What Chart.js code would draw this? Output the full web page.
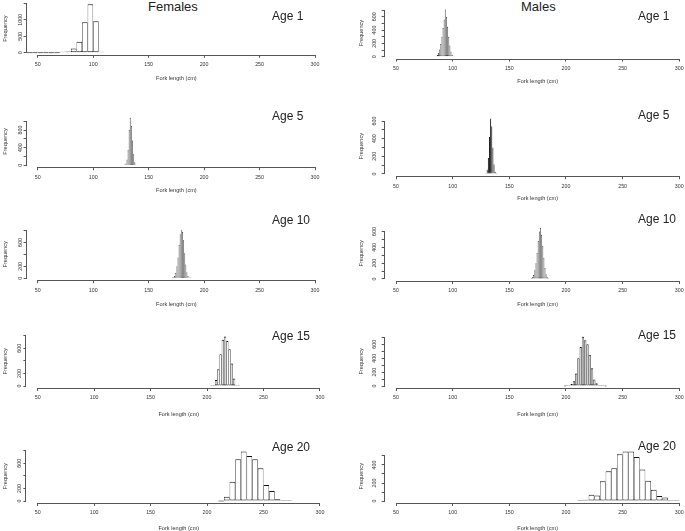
<!DOCTYPE html>
<html>
<head>
<meta charset="utf-8">
<script src="https://cdn.jsdelivr.net/npm/chart.js@4.4.0/dist/chart.umd.min.js"></script>
<style>
  body { margin: 0; background: #fff; width: 685px; height: 531px; overflow: hidden; position: relative;
         font-family: "Liberation Sans", Arial, sans-serif; }
  canvas { position: absolute; }
  .lab { position: absolute; color: #222; white-space: nowrap; line-height: 1; }
</style>
</head>
<body>
<div class="lab" style="left:148px;top:0px;font-size:13px">Females</div>
<div class="lab" style="left:521px;top:0px;font-size:13px">Males</div>
<script>
// x axis ticks, shared by every panel
var lengthTicks = [50, 100, 150, 200, 250, 300];

// Females, age 1 (5 cm bins)
var binsF1 = [42.5, 47.5, 52.5, 57.5, 62.5, 67.5, 72.5, 77.5, 82.5, 87.5, 92.5, 97.5, 102.5, 107.5];
var countsF1 = [0, 0, 0, 0, 0, 0, 15, 40, 135, 340, 930, 1470, 960, 30];
var yTicksF1 = [0, 500, 1000, 1500];
var yLabelsF1 = ['0', '500', '1000', ''];

// Females, age 5 (1 cm bins)
var binsF5 = [128.5, 129.5, 130.5, 131.5, 132.5, 133.5, 134.5, 135.5, 136.5, 137.5, 138.5];
var countsF5 = [10, 40, 130, 350, 800, 1080, 900, 560, 250, 70, 15];
var yTicksF5 = [0, 200, 400, 600, 800, 1000];
var yLabelsF5 = ['0', '', '400', '', '800', ''];

// Females, age 10 (1 cm bins)
var binsF10 = [171.5, 172.5, 173.5, 174.5, 175.5, 176.5, 177.5, 178.5, 179.5, 180.5, 181.5, 182.5, 183.5, 184.5, 185.5, 186.5, 187.5];
var countsF10 = [5, 15, 40, 90, 200, 350, 560, 740, 805, 780, 640, 420, 230, 100, 40, 15, 5];
var yTicksF10 = [0, 200, 400, 600, 800];
var yLabelsF10 = ['0', '200', '', '600', ''];

// Females, age 15 (2 cm bins)
var binsF15 = [204, 206, 208, 210, 212, 214, 216, 218, 220, 222, 224, 226, 228];
var countsF15 = [3, 10, 95, 265, 505, 735, 787, 718, 585, 360, 120, 15, 3];
var yTicksF15 = [0, 200, 400, 600, 800];
var yLabelsF15 = ['0', '200', '', '600', ''];

// Females, age 20 (5 cm bins)
var binsF20 = [212.5, 217.5, 222.5, 227.5, 232.5, 237.5, 242.5, 247.5, 252.5, 257.5, 262.5, 267.5, 272.5];
var countsF20 = [0, 69, 308, 665, 787, 718, 665, 521, 255, 160, 27, 10, 2];
var yTicksF20 = [0, 200, 400, 600, 800];
var yLabelsF20 = ['0', '200', '', '600', ''];

// Males, age 1 (1 cm bins)
var binsM1 = [84.5, 85.5, 86.5, 87.5, 88.5, 89.5, 90.5, 91.5, 92.5, 93.5, 94.5, 95.5, 96.5, 97.5, 98.5, 99.5, 100.5, 101.5];
var countsM1 = [5, 15, 30, 60, 110, 190, 300, 430, 560, 710, 600, 450, 300, 170, 80, 30, 10, 3];
var yTicksM1 = [0, 100, 200, 300, 400, 500, 600, 700];
var yLabelsM1 = ['0', '', '200', '', '400', '', '600', ''];

// Males, age 5 (1 cm bins)
var binsM5 = [129.5, 130.5, 131.5, 132.5, 133.5, 134.5, 135.5, 136.5, 137.5, 138.5];
var countsM5 = [10, 50, 180, 420, 630, 540, 300, 110, 25, 5];
var yTicksM5 = [0, 100, 200, 300, 400, 500, 600];
var yLabelsM5 = ['0', '', '200', '', '400', '', '600'];

// Males, age 10 (1 cm bins)
var binsM10 = [169.5, 170.5, 171.5, 172.5, 173.5, 174.5, 175.5, 176.5, 177.5, 178.5, 179.5, 180.5, 181.5, 182.5, 183.5, 184.5];
var countsM10 = [5, 20, 50, 110, 200, 330, 480, 600, 650, 560, 420, 270, 140, 60, 20, 5];
var yTicksM10 = [0, 100, 200, 300, 400, 500, 600];
var yLabelsM10 = ['0', '', '200', '', '400', '', '600'];

// Males, age 15 (2 cm bins)
var binsM15 = [199, 201, 203, 205, 207, 209, 211, 213, 215, 217, 219, 221, 223, 225, 227, 229, 231, 233, 235];
var countsM15 = [0, 2, 10, 30, 70, 180, 400, 560, 710, 660, 600, 450, 255, 95, 40, 15, 5, 2, 0];
var yTicksM15 = [0, 100, 200, 300, 400, 500, 600, 700];
var yLabelsM15 = ['0', '', '200', '', '400', '', '600', ''];

// Males, age 20 (5 cm bins)
var binsM20 = [212.5, 217.5, 222.5, 227.5, 232.5, 237.5, 242.5, 247.5, 252.5, 257.5, 262.5, 267.5, 272.5, 277.5, 282.5, 287.5, 292.5, 297.5];
var countsM20 = [3, 15, 70, 60, 220, 330, 365, 520, 550, 550, 490, 350, 225, 125, 55, 40, 10, 10];
var yTicksM20 = [0, 100, 200, 300, 400, 500];
var yLabelsM20 = ['0', '', '200', '', '400', ''];

// page layout of each panel (plot box in page pixels)
var panels = [
  {age: 'Age 1',  bins: binsF1,  counts: countsF1,  yTicks: yTicksF1,  yLabels: yLabelsF1,  fill: '#ffffff', narrow: false, col: 0, left: 26.6, right: 326.1, top: 2.4,   bottom: 54.8,  titleGap: 24, ageY: 16},
  {age: 'Age 5',  bins: binsF5,  counts: countsF5,  yTicks: yTicksF5,  yLabels: yLabelsF5,  fill: '#7a7a7a', narrow: true,  col: 0, left: 26.6, right: 326.1, top: 115.8, bottom: 167.2, titleGap: 23, ageY: 116},
  {age: 'Age 10', bins: binsF10, counts: countsF10, yTicks: yTicksF10, yLabels: yLabelsF10, fill: '#7a7a7a', narrow: true,  col: 0, left: 26.6, right: 326.1, top: 228.4, bottom: 280.2, titleGap: 24, ageY: 219.5},
  {age: 'Age 15', bins: binsF15, counts: countsF15, yTicks: yTicksF15, yLabels: yLabelsF15, fill: '#ffffff', narrow: false, col: 0, left: 26.4, right: 331.2, top: 334.6, bottom: 388,   titleGap: 26, ageY: 335.5},
  {age: 'Age 20', bins: binsF20, counts: countsF20, yTicks: yTicksF20, yLabels: yLabelsF20, fill: '#ffffff', narrow: false, col: 0, left: 26.4, right: 331.2, top: 449.6, bottom: 503,   titleGap: 25, ageY: 447},
  {age: 'Age 1',  bins: binsM1,  counts: countsM1,  yTicks: yTicksM1,  yLabels: yLabelsM1,  fill: '#7a7a7a', narrow: true,  col: 1, left: 384.7, right: 690.6, top: 7.5,   bottom: 58.6,  titleGap: 23, ageY: 16},
  {age: 'Age 5',  bins: binsM5,  counts: countsM5,  yTicks: yTicksM5,  yLabels: yLabelsM5,  fill: '#000000', narrow: true,  col: 1, left: 384.7, right: 690.6, top: 116.2, bottom: 176.2, titleGap: 22.5, ageY: 114.5},
  {age: 'Age 10', bins: binsM10, counts: countsM10, yTicks: yTicksM10, yLabels: yLabelsM10, fill: '#7a7a7a', narrow: true,  col: 1, left: 384.7, right: 690.6, top: 225.6, bottom: 281,   titleGap: 23, ageY: 219},
  {age: 'Age 15', bins: binsM15, counts: countsM15, yTicks: yTicksM15, yLabels: yLabelsM15, fill: '#d0d0d0', narrow: false, col: 1, left: 384.7, right: 690.6, top: 334.7, bottom: 388,   titleGap: 26, ageY: 334.5},
  {age: 'Age 20', bins: binsM20, counts: countsM20, yTicks: yTicksM20, yLabels: yLabelsM20, fill: '#ffffff', narrow: false, col: 1, left: 384.7, right: 690.6, top: 449.5, bottom: 503,   titleGap: 25, ageY: 445.5}
];

var FONT = 'Liberation Sans';
var measureCtx = document.createElement('canvas').getContext('2d');
function widest(labels, size) {
  measureCtx.font = size + 'px "' + FONT + '"';
  var w = 0;
  labels.forEach(function (t) { w = Math.max(w, measureCtx.measureText(t).width); });
  return w;
}

// R style axes: x line from first to last tick, y line from 0 to top tick
var rAxes = {
  id: 'rAxes',
  afterDraw: function (chart) {
    var ctx = chart.ctx, x = chart.scales.x, y = chart.scales.y;
    var yt = y.ticks;
    ctx.save();
    ctx.strokeStyle = '#555';
    ctx.lineWidth = 1;
    ctx.beginPath();
    var ay = Math.round(x.top) + 0.5;
    ctx.moveTo(x.getPixelForValue(lengthTicks[0]), ay);
    ctx.lineTo(x.getPixelForValue(lengthTicks[lengthTicks.length - 1]), ay);
    var ax = Math.round(y.right) - 0.5;
    ctx.moveTo(ax, y.getPixelForValue(yt[0].value));
    ctx.lineTo(ax, y.getPixelForValue(yt[yt.length - 1].value));
    ctx.stroke();
    ctx.restore();
  }
};

function makePanel(p) {
  var cx = p.col ? 340 : 0;
  var pl = p.col ? 16 : 0;
  var tickGap = 10, labelGap = p.col ? 10 : 6.5;
  var xh = p.titleGap + 3.4;
  var cy = Math.floor(p.top) - 8;
  var cw = Math.ceil(p.right) - cx + 2;
  var ch = Math.ceil(p.bottom + xh) - cy + 1;

  var canvas = document.createElement('canvas');
  canvas.width = cw;
  canvas.height = ch;
  canvas.style.left = cx + 'px';
  canvas.style.top = cy + 'px';
  document.body.appendChild(canvas);

  var lab = document.createElement('div');
  lab.className = 'lab';
  lab.textContent = p.age;
  lab.style.fontSize = '12px';
  lab.style.left = (p.col ? 638 : 272) + 'px';
  lab.style.top = (p.ageY - 6) + 'px';
  document.body.appendChild(lab);

  var m = Math.max.apply(null, p.counts);
  var yw = p.left - cx - pl;
  var tickSize = 5.3;
  var yPad = labelGap - 3 - widest(p.yLabels, tickSize) / 2;
  var side = p.narrow ? 0.15 : 0.65;

  new Chart(canvas, {
    type: 'bar',
    data: {
      datasets: [{
        data: p.bins.map(function (b, i) { return {x: b, y: p.counts[i]}; }),
        backgroundColor: p.fill,
        borderColor: '#111',
        borderWidth: {top: 1, left: side, right: side, bottom: 1},
        borderSkipped: false,
        barPercentage: 1,
        categoryPercentage: 1,
        minBarLength: 1,
        inflateAmount: 0
      }]
    },
    options: {
      responsive: false,
      animation: false,
      layout: {padding: {left: pl, top: p.top - cy, right: cw - (p.right - cx), bottom: ch - xh - (p.bottom - cy)}},
      plugins: {legend: {display: false}, tooltip: {enabled: false}},
      scales: {
        x: {
          type: 'linear', min: 40, max: 310, offset: false,
          grid: {offset: false, drawOnChartArea: false, tickLength: 3, color: '#555'},
          border: {display: false},
          afterBuildTicks: function (s) { s.ticks = lengthTicks.map(function (v) { return {value: v}; }); },
          afterFit: function (s) { s.height = xh; },
          ticks: {font: {family: FONT, size: tickSize}, color: '#333', padding: tickGap - 3 - 3.2, maxRotation: 0, autoSkip: false},
          title: {display: true, text: 'Fork length (cm)', font: {family: FONT, size: 5.6}, color: '#333', padding: 0}
        },
        y: {
          min: -0.04 * m, max: 1.04 * m,
          grid: {drawOnChartArea: false, tickLength: 3, color: '#555'},
          border: {display: false},
          afterBuildTicks: function (s) { s.ticks = p.yTicks.map(function (v) { return {value: v}; }); },
          afterFit: function (s) { s.width = yw; },
          ticks: {font: {family: FONT, size: tickSize}, color: '#333', padding: yPad, minRotation: 90, maxRotation: 90,
                  crossAlign: 'center', autoSkip: false,
                  callback: function (v, i) { return p.yLabels[i]; }},
          title: {display: true, text: 'Frequency', font: {family: FONT, size: 5.6}, color: '#333', padding: {top: 2, bottom: 0}}
        }
      }
    },
    plugins: [rAxes]
  });
}

panels.forEach(makePanel);
</script>
</body>
</html>
